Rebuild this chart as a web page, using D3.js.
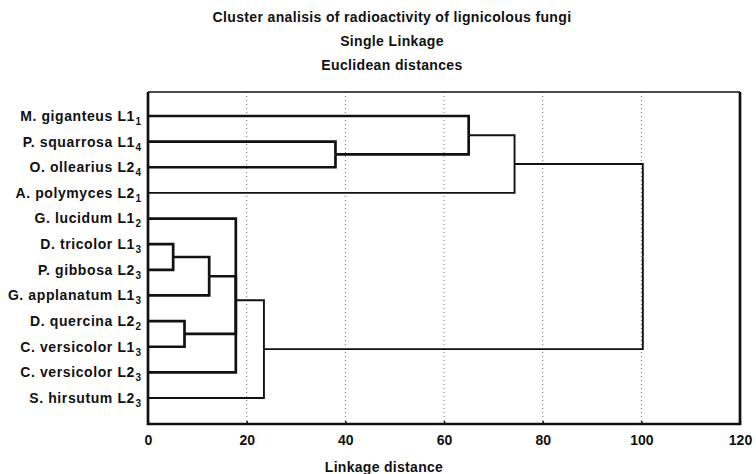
<!DOCTYPE html>
<html>
<head>
<meta charset="utf-8">
<script src="https://cdn.jsdelivr.net/npm/d3@7/dist/d3.min.js"></script>
<style>
  body { margin: 0; background: #fff; }
  text { font-family: "Liberation Sans", Arial, sans-serif; font-weight: bold; fill: #111; }
</style>
</head>
<body>
<div id="chart"></div>
<script>
const TITLE_LINES = [
  "Cluster analisis of radioactivity of lignicolous fungi",
  "Single Linkage",
  "Euclidean distances",
];
const X_LABEL = "Linkage distance";

// leaves, top to bottom
const leafNames = [
  "M. giganteus L1", "P. squarrosa L1", "O. ollearius L2", "A. polymyces L2",
  "G. lucidum L1", "D. tricolor L1", "P. gibbosa L2", "G. applanatum L1",
  "D. quercina L2", "C. versicolor L1", "C. versicolor L2", "S. hirsutum L2",
];
const leafSubs = ["1", "4", "4", "1", "2", "3", "3", "3", "2", "3", "3", "3"];

// merge steps: ids 12.. refer to earlier merges, 0..11 to leaves
const mergeChildren = [
  [1, 2], [0, 12], [13, 3],
  [5, 6], [15, 7], [8, 9], [4, 16, 17, 10], [18, 11],
  [14, 19],
];
const mergeDistances = [38, 65, 74.3, 5.1, 12.4, 7.4, 17.8, 23.5, 100.3];

const xTicks = [0, 20, 40, 60, 80, 100, 120];

const width = 756;
const height = 474;
const margin = { top: 92, right: 16, bottom: 50, left: 148 };
const innerW = width - margin.left - margin.right;
const innerH = height - margin.top - margin.bottom;
const leafTop = 24;
const leafBottom = 306;

const svg = d3.select("#chart").append("svg")
  .attr("width", width).attr("height", height);

svg.selectAll(".title")
  .data(TITLE_LINES)
  .enter().append("text")
  .attr("class", "title")
  .attr("x", 392)
  .attr("y", (d, i) => 22 + i * 24)
  .attr("text-anchor", "middle")
  .style("font-size", "14px")
  .style("letter-spacing", "0.35px")
  .text((d) => d);

const x = d3.scaleLinear().domain([0, 120]).range([0, innerW]);

const g = svg.append("g").attr("transform", `translate(${margin.left},${margin.top})`);

// dotted grid
g.selectAll(".grid")
  .data(xTicks.filter((t) => t > 0 && t < 120))
  .enter().append("line")
  .attr("x1", (d) => x(d)).attr("x2", (d) => x(d))
  .attr("y1", 0).attr("y2", innerH)
  .attr("stroke", "#666")
  .attr("stroke-width", 0.9)
  .attr("stroke-dasharray", "1,3");

// tree
const nLeaves = leafNames.length;
const nodeDist = (id) => (id < nLeaves ? 0 : mergeDistances[id - nLeaves]);
const rootId = nLeaves + mergeChildren.length - 1;
const root = d3.hierarchy(rootId, (id) => (id < nLeaves ? null : mergeChildren[id - nLeaves]));
// d3.cluster insets leaves by half a step, so widen the band accordingly
const step = (leafBottom - leafTop) / (nLeaves - 1);
const yOff = leafTop - step / 2;
d3.cluster().size([step * nLeaves, 1]).separation(() => 1)(root);

g.append("g")
  .attr("fill", "none")
  .attr("stroke", "#111")
  .selectAll("path")
  .data(root.links())
  .enter().append("path")
  .attr("stroke-width", (d) => (d.source.data === 20 || d.source.data === 19 || d.source.data === 14 ? 1.9 : 2.7))
  .attr("d", (d) =>
    `M${x(nodeDist(d.target.data))},${yOff + d.target.x}` +
    `H${x(nodeDist(d.source.data))}V${yOff + d.source.x}`);

// leaf labels
const labels = g.selectAll(".leaf")
  .data(root.leaves())
  .enter().append("text")
  .attr("class", "leaf")
  .attr("x", -7)
  .attr("y", (d) => yOff + d.x)
  .attr("dy", "0.35em")
  .attr("text-anchor", "end")
  .style("font-size", "14px")
  .style("letter-spacing", "0.6px");
labels.append("tspan").text((d) => leafNames[d.data]);
labels.append("tspan")
  .attr("dx", 0.5)
  .attr("dy", 4)
  .style("font-size", "10px")
  .style("letter-spacing", "0px")
  .text((d) => leafSubs[d.data]);

// frame
g.append("line").attr("x1", 0).attr("x2", innerW).attr("y1", 0).attr("y2", 0)
  .attr("stroke", "#111").attr("stroke-width", 1.5);
g.append("path")
  .attr("d", `M0,0V${innerH}H${innerW}V0`)
  .attr("fill", "none").attr("stroke", "#111").attr("stroke-width", 2.7);

// x axis
const axis = g.append("g")
  .attr("transform", `translate(0,${innerH})`)
  .call(d3.axisBottom(x).tickValues(xTicks).tickSize(-3).tickPadding(11));
axis.select(".domain").remove();
axis.selectAll("line").attr("stroke", "#111").attr("stroke-width", 1.5);
axis.selectAll("text")
  .style("font-size", "14px")
  .style("font-family", "'Liberation Sans', Arial, sans-serif")
  .style("font-weight", "bold")
  .attr("fill", "#111");

svg.append("text")
  .attr("x", 384)
  .attr("y", 472)
  .attr("text-anchor", "middle")
  .style("font-size", "14px")
  .style("letter-spacing", "0.3px")
  .text(X_LABEL);
</script>
</body>
</html>
